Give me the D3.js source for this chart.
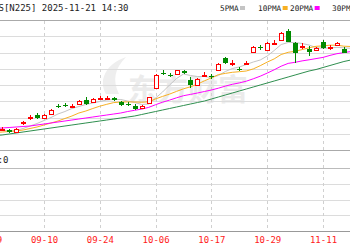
<!DOCTYPE html>
<html>
<head>
<meta charset="utf-8">
<script src="https://cdn.jsdelivr.net/npm/d3@7"></script>
<style>
  body { margin: 0; background: #fff; }
  svg { display: block; }
  text { font-family: "DejaVu Sans Mono", monospace; }
</style>
</head>
<body>
<svg id="chart" width="350" height="250"></svg>
<script>
// trading days, 08-29 .. 11-17 (first and last are only partly in view)
var dates = ["08-29","09-01","09-02","09-03","09-04","09-05","09-08","09-09","09-10","09-11",
  "09-12","09-16","09-17","09-18","09-19","09-22","09-24","09-25","09-26","09-29",
  "09-30","10-01","10-02","10-03","10-06","10-07","10-08","10-09","10-10","10-14",
  "10-15","10-16","10-17","10-20","10-21","10-22","10-23","10-24","10-27","10-28",
  "10-29","10-30","10-31","11-04","11-05","11-06","11-07","11-10","11-11","11-12",
  "11-13","11-14","11-17"];
var tickDates = ["08-29","09-10","09-24","10-06","10-17","10-29","11-11"];

var openVals = [null,null,42050,42000,41800,42650,43200,43500,43200,43650,
  44400,44520,44380,44600,45000,44800,45150,45200,45250,44800,
  44650,44400,44300,44750,46200,47750,47550,47600,47900,47000,
  46600,47450,47400,48000,49150,48650,48150,48650,49850,50300,
  50000,50700,51050,51950,50750,50350,50100,50050,50800,50250,
  50500,50150,null];
var highVals = [null,null,42300,42150,42200,42900,43500,43730,43600,44100,
  44600,44700,44600,45050,45330,45250,45400,45450,45350,44900,
  44800,44600,44500,45350,47600,48000,47700,48050,48000,47300,
  47250,47800,47600,48750,49300,49000,48300,48900,50400,50500,
  50850,51000,51800,52100,50850,50700,50400,50350,51000,50550,
  50800,50300,null];
var lowVals = [null,null,41900,41700,41750,42500,43000,43100,43150,43600,
  44200,44300,44200,44550,44500,44750,45000,45050,44950,44400,
  44400,44000,44250,44700,46100,47500,47300,47550,47600,46200,
  46550,47300,47100,47950,48600,48450,47900,48500,49800,50000,
  49950,50500,51000,50800,48700,50150,49400,50000,50100,50050,
  50450,49700,null];
var closeVals = [null,null,42100,41800,42100,42750,43300,43170,43500,44000,
  44350,44480,44420,44950,44600,45150,45200,45250,45050,44500,
  44550,44150,44450,45300,47500,47700,47450,47950,47700,46500,
  47150,47550,47300,48650,48700,48750,48050,48700,50300,50200,
  50700,50750,51700,50850,49750,50450,49800,50250,50200,50350,
  50700,49750,null];

var ma5 = [null,42000,42000,41900,41950,42150,42400,42650,42950,43250,
  43600,43850,44150,44350,44550,44700,44850,45000,45050,45050,
  44900,44750,44550,44600,45200,45800,46500,47150,47600,47450,
  47350,47350,47250,47450,47850,48150,48300,48550,48800,49000,
  49400,49950,50550,50750,50750,50650,50500,50250,50150,50220,
  50260,50220,50170];
var ma10 = [null,41750,41800,41850,41900,42000,42150,42300,42500,42700,
  42900,43150,43400,43700,43900,44150,44380,44570,44740,44800,
  44810,44800,44780,44820,45110,45360,45590,45860,46120,46320,
  46580,46920,47210,47540,47660,47770,47830,47900,48110,48430,
  48790,49110,49550,49770,49870,50040,50220,50370,50410,50480,
  50480,50380,50350];
var ma20 = [null,42150,42200,42250,42300,42350,42400,42500,42600,42700,
  42800,42900,43000,43100,43200,43300,43400,43500,43600,43700,
  43850,43970,44090,44260,44530,44780,44990,45220,45430,45560,
  45700,45850,46000,46180,46390,46570,46710,46880,47120,47380,
  47690,48020,48380,48660,48770,48910,49020,49140,49260,49460,
  49630,49740,49850];
var ma30 = [null,41450,41500,41600,41700,41800,41900,42000,42100,42200,
  42300,42400,42500,42600,42700,42800,42900,43000,43100,43200,
  43300,43400,43550,43700,43850,44000,44150,44300,44450,44600,
  44750,44900,45100,45300,45500,45700,45900,46100,46300,46500,
  46700,46900,47100,47300,47500,47700,47900,48050,48250,48450,
  48650,48850,49000];

var maNames = ["5PMA", "10PMA", "20PMA", "30PMA"];
var maColors = ["#c4c4c4", "#f7b023", "#ff00ff", "#2f8f4f"];
var legendX = [220, 258, 290, 332];

var upColor = "#ff0000", downColor = "#008a00";

var svg = d3.select("#chart");
svg.append("rect").attr("width", 350).attr("height", 250).attr("fill", "#fff");

var x = d3.scaleLinear().domain([0, dates.length - 1]).range([-11.8, 350.9]);
var y = d3.scaleLinear().domain([40000, 53000]).range([150, 20]);
var yVol = d3.scaleLinear().domain([0, 4]).range([231, 168]);

// watermark (logo swoosh + name)
svg.append("path")
  .attr("d", "M106,94 C98,80 106,64 126,57 C115,68 112,80 119,94 Z")
  .attr("fill", "#eeeeee");
svg.append("text")
  .attr("x", 128).attr("y", 100)
  .style("font-family", "'Noto Sans CJK SC'")
  .style("font-weight", "bold")
  .style("font-size", "30px")
  .attr("fill", "#ebebeb")
  .text("东方财富");

// horizontal grid, price panel
svg.append("g").selectAll("line")
  .data(d3.range(40000, 53001, 1625))
  .enter().append("line")
    .attr("x1", 0).attr("x2", 350)
    .attr("y1", function(d) { return Math.round(y(d)) + 0.5; })
    .attr("y2", function(d) { return Math.round(y(d)) + 0.5; })
    .attr("stroke", function(d, i) { return (i == 0 || i == 8) ? "#aaa" : "#dcdcdc"; });

// horizontal grid, lower panel
svg.append("g").selectAll("line")
  .data(d3.range(0, 5))
  .enter().append("line")
    .attr("x1", 0).attr("x2", 350)
    .attr("y1", function(d) { return Math.round(yVol(d)) + 0.5; })
    .attr("y2", function(d) { return Math.round(yVol(d)) + 0.5; })
    .attr("stroke", function(d) { return d == 4 ? "#bbb" : "#dcdcdc"; });

var tickIdx = tickDates.map(function(d) { return dates.indexOf(d); });

// vertical dashed grid
svg.append("g").selectAll("line")
  .data(tickIdx)
  .enter().append("line")
    .attr("x1", function(i) { return Math.round(x(i)) + 0.5; })
    .attr("x2", function(i) { return Math.round(x(i)) + 0.5; })
    .attr("y1", 21).attr("y2", 230)
    .attr("stroke", "#d0d0d0")
    .attr("stroke-dasharray", "3,3");

// date axis
var axis = svg.append("g")
  .attr("transform", "translate(0," + Math.round(yVol(0)) + ")")
  .call(d3.axisBottom(x).tickValues(tickIdx)
    .tickFormat(function(i) { return dates[i]; })
    .tickSize(0).tickPadding(6));
axis.select(".domain").attr("stroke", "#999").attr("d", "M0,0.5H350");
axis.selectAll("text")
  .style("font-family", "'DejaVu Sans Mono', monospace")
  .style("font-size", "9px")
  .attr("fill", "#ff2020");

// moving averages
var maSeries = [ma5, ma10, ma20, ma30];
maSeries.forEach(function(vals, k) {
  var line = d3.line()
    .defined(function(d) { return d != null; })
    .x(function(d, i) { return x(i); })
    .y(function(d) { return y(d); });
  svg.append("path")
    .datum(vals)
    .attr("fill", "none")
    .attr("stroke", maColors[k])
    .attr("stroke-width", 1)
    .attr("d", line);
});

// candles
var idx = d3.range(dates.length).filter(function(i) { return openVals[i] != null; });
var cg = svg.append("g").attr("shape-rendering", "crispEdges");
function cx(i) { return Math.round(x(i)); }
function isUp(i) { return closeVals[i] >= openVals[i]; }

cg.selectAll("line.wick").data(idx).enter().append("line")
  .attr("class", "wick")
  .attr("x1", function(i) { return cx(i) + 0.5; })
  .attr("x2", function(i) { return cx(i) + 0.5; })
  .attr("y1", function(i) { return y(highVals[i]); })
  .attr("y2", function(i) { return y(lowVals[i]); })
  .attr("stroke", function(i) { return isUp(i) ? upColor : downColor; });

cg.selectAll("rect.body").data(idx).enter().append("rect")
  .attr("class", "body")
  .attr("x", function(i) { return cx(i) - 2 + (isUp(i) ? 0.5 : 0); })
  .attr("width", function(i) { return isUp(i) ? 4 : 5; })
  .attr("y", function(i) { return Math.round(y(Math.max(openVals[i], closeVals[i]))) + (isUp(i) ? 0.5 : 0); })
  .attr("height", function(i) {
    return Math.max(Math.round(Math.abs(y(openVals[i]) - y(closeVals[i]))), 1);
  })
  .attr("fill", function(i) { return isUp(i) ? "#fff" : downColor; })
  .attr("stroke", function(i) { return isUp(i) ? upColor : "none"; });

// title and legend
svg.append("text")
  .attr("x", -1.5).attr("y", 11)
  .style("font-size", "9px")
  .attr("fill", "#222")
  .text("S[N225] 2025-11-21 14:30");

var lg = svg.append("g").selectAll("g")
  .data(maNames)
  .enter().append("g")
    .attr("transform", function(d, k) { return "translate(" + legendX[k] + ",0)"; });
lg.append("text")
  .attr("y", 11)
  .style("font-size", "7.7px")
  .attr("fill", "#222")
  .text(function(d) { return d; });
lg.append("rect")
  .attr("x", function(d) { return d.length * 4.63 + 1.5; })
  .attr("y", 6).attr("width", 5).attr("height", 4)
  .attr("fill", function(d, k) { return maColors[k]; });

// lower panel value
svg.append("text")
  .attr("x", 8.5).attr("y", 163)
  .attr("text-anchor", "end")
  .style("font-size", "9px")
  .attr("fill", "#222")
  .text("VOL:0");
</script>
</body>
</html>
